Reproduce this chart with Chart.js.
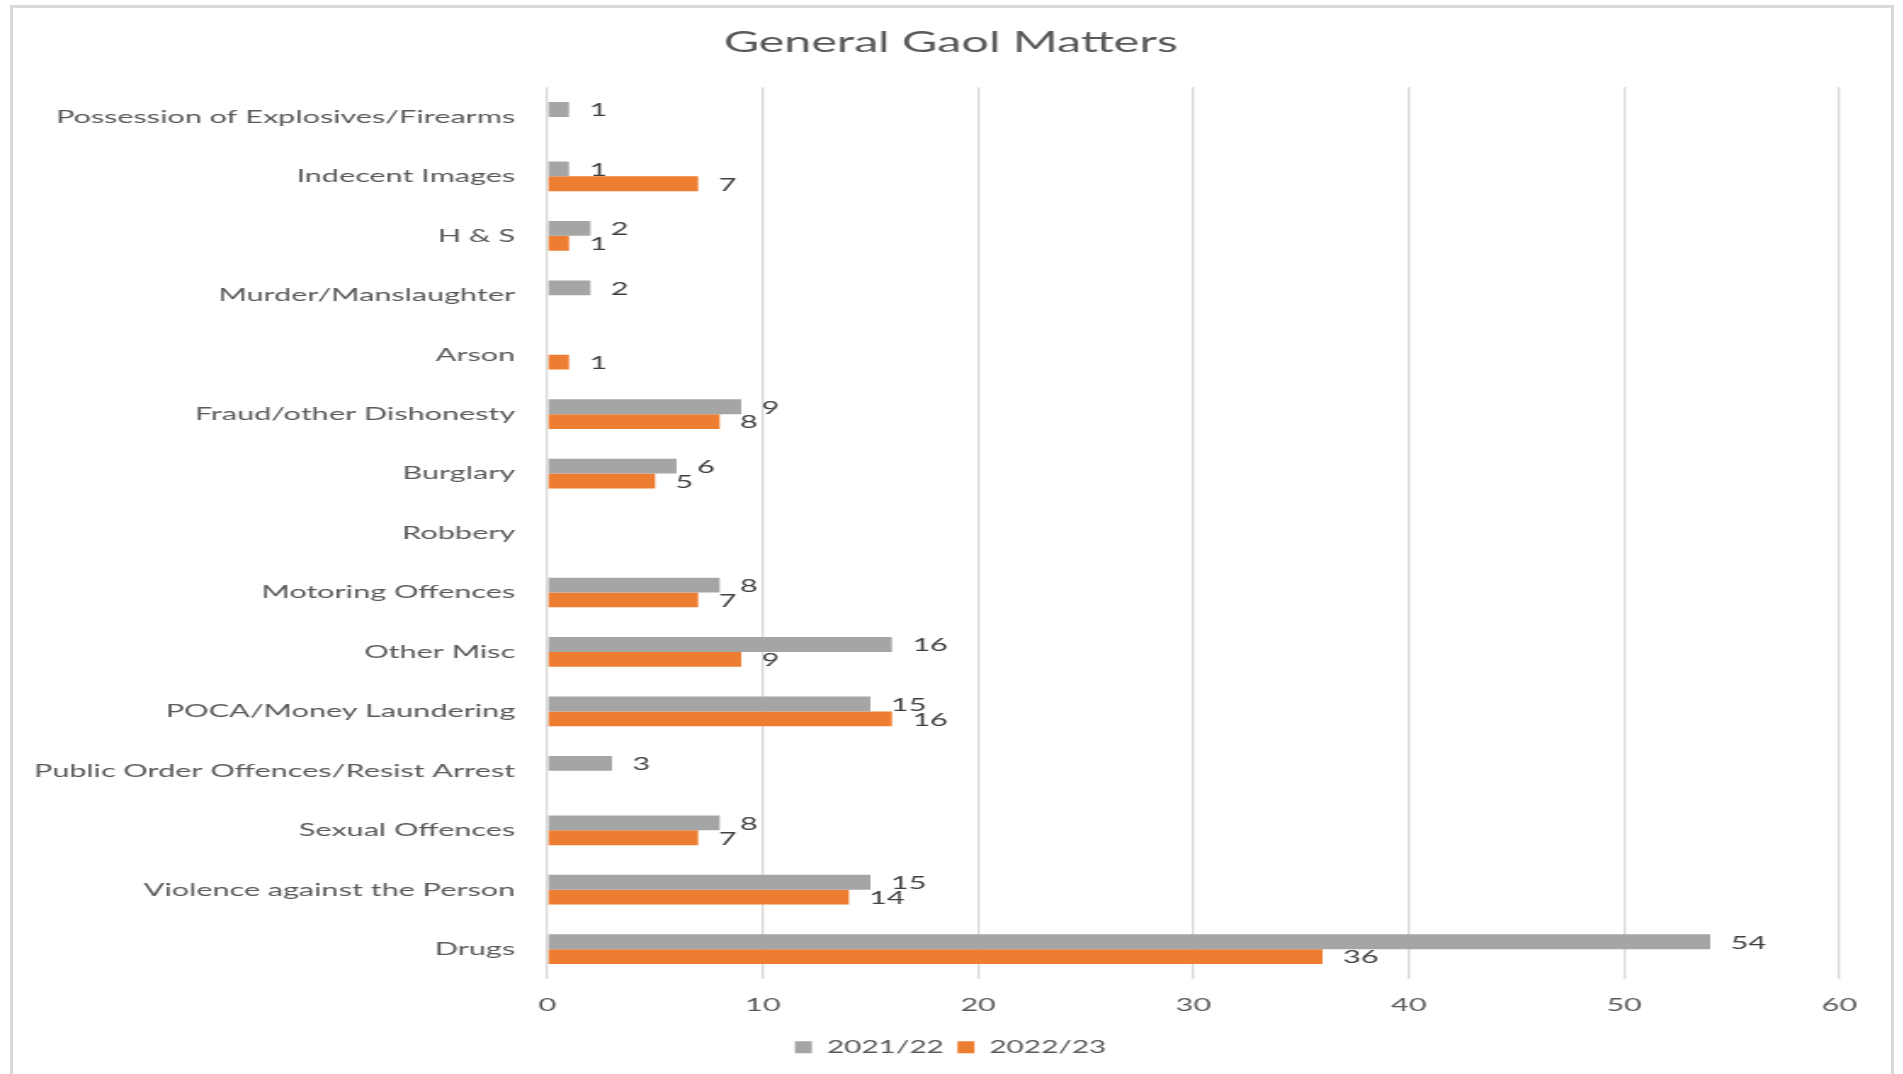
<!DOCTYPE html>
<html>
<head>
<meta charset="utf-8">
<title>General Gaol Matters</title>
<script src="https://cdn.jsdelivr.net/npm/chart.js@4.4.0/dist/chart.umd.min.js"></script>
<style>
  html, body { margin: 0; padding: 0; background: #fff; overflow: hidden; }
  #frame {
    position: absolute; left: 10px; top: 5px; width: 1884px; height: 1100px;
    border: 3px solid #d9d9d9; box-sizing: border-box;
  }
  #wrap {
    position: absolute; left: 0; top: 0;
    transform-origin: 0 0;
  }
</style>
</head>
<body>
<div id="frame"></div>
<div id="wrap"><canvas id="chart"></canvas></div>
<script>
// data, top row first
const categories = [
  'Possession of Explosives/Firearms',
  'Indecent Images',
  'H & S',
  'Murder/Manslaughter',
  'Arson',
  'Fraud/other Dishonesty',
  'Burglary',
  'Robbery',
  'Motoring Offences',
  'Other Misc',
  'POCA/Money Laundering',
  'Public Order Offences/Resist Arrest',
  'Sexual Offences',
  'Violence against the Person',
  'Drugs'
];
const seriesNames = ['2021/22', '2022/23'];
const values2122 = [1, 1, 2, 2, null, 9, 6, null, 8, 16, 15, 3, 8, 15, 54];
const values2223 = [null, 7, 1, null, 1, 8, 5, null, 7, 9, 16, null, 7, 14, 36];
const xTicks = [0, 10, 20, 30, 40, 50, 60];

// the original picture is stretched sideways, so draw narrow and stretch
const stretch = 1.7;
const W = 1903 / stretch;
const H = 1074;

const canvas = document.getElementById('chart');
canvas.width = Math.round(W);
canvas.height = H;
document.getElementById('wrap').style.transform = 'scaleX(' + stretch + ')';

const FONT = 'Lato, "Open Sans", sans-serif';
const textGrey = '#595959';

// value labels at the end of each bar
const barLabels = {
  id: 'barLabels',
  afterDatasetsDraw(chart) {
    const ctx = chart.ctx;
    ctx.save();
    ctx.font = '18px ' + FONT;
    ctx.fillStyle = '#404040';
    ctx.textAlign = 'left';
    ctx.textBaseline = 'middle';
    chart.data.datasets.forEach((ds, i) => {
      const meta = chart.getDatasetMeta(i);
      meta.data.forEach((bar, j) => {
        const v = ds.data[j];
        if (v === null || v === undefined) return;
        ctx.fillText(String(v), bar.x + 12, bar.y + 1);
      });
    });
    ctx.restore();
  }
};

new Chart(canvas, {
  type: 'bar',
  data: {
    labels: categories,
    datasets: [
      {
        label: seriesNames[0],
        data: values2122,
        backgroundColor: '#a5a5a5',
        categoryPercentage: 0.5,
        barPercentage: 1.0
      },
      {
        label: seriesNames[1],
        data: values2223,
        backgroundColor: '#ed7d31',
        categoryPercentage: 0.5,
        barPercentage: 1.0
      }
    ]
  },
  options: {
    indexAxis: 'y',
    responsive: false,
    animation: false,
    devicePixelRatio: 1,
    layout: { padding: { left: 10, right: 10.6, top: 10, bottom: 8 } },
    scales: {
      x: {
        min: 0,
        max: 60,
        afterBuildTicks(scale) {
          scale.ticks = xTicks.map(v => ({ value: v }));
        },
        grid: { color: '#d9d9d9', lineWidth: 1.3, drawTicks: false },
        border: { display: false },
        ticks: {
          color: textGrey,
          font: { family: FONT, size: 18 },
          padding: 15
        }
      },
      y: {
        grid: { display: false, drawTicks: false },
        border: { display: false },
        ticks: {
          color: textGrey,
          font: { family: FONT, size: 18 },
          padding: 19,
          autoSkip: false
        },
        afterFit(scale) {
          scale.width = 312;
        }
      },
      // empty strip on the right so title and legend stay centred on the frame
      spacer: {
        type: 'linear',
        position: 'right',
        grid: { display: false, drawTicks: false },
        border: { display: false },
        ticks: { display: false },
        afterFit(scale) {
          scale.width = 26.4;
        }
      }
    },
    plugins: {
      title: {
        display: true,
        text: 'General Gaol Matters',
        color: textGrey,
        font: { family: FONT, size: 28.5, weight: 'normal' },
        padding: { top: 16, bottom: 27 }
      },
      legend: {
        position: 'bottom',
        labels: {
          color: textGrey,
          font: { family: FONT, size: 17.5 },
          boxWidth: 10,
          boxHeight: 12,
          padding: 8
        }
      },
      tooltip: { enabled: false }
    }
  },
  plugins: [barLabels]
});
</script>
</body>
</html>
